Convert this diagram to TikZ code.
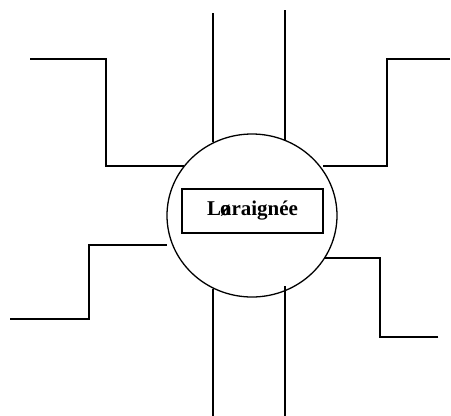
\documentclass[tikz,border=0pt]{standalone}
\usepackage{fontspec}
\setmainfont{Liberation Serif}
\usetikzlibrary{shapes.geometric}

\begin{document}
\begin{tikzpicture}[x=1pt, y=-1pt,
    web/.style={draw, ellipse, line width=1.3pt, minimum width=170pt, minimum height=163pt, inner sep=0pt},
    namebox/.style={draw, line width=1.3pt, minimum width=141pt, minimum height=44pt, inner sep=0pt, font=\fontsize{21}{25}\selectfont\bfseries},
    leg/.style={line width=2.2pt},
    rail/.style={line width=2pt}
]
\useasboundingbox (0,0) rectangle (451,416);

\node[web] (spider) at (252,215.5) {};
\node[namebox] (name) at (252.5,211) {L\makebox[0pt][l]{\kern-1pt ø}araignée};

% free ends
\coordinate (tl) at (30,59);   \coordinate (tlc) at (106.3,166.3);
\coordinate (tr) at (450,59);  \coordinate (trc) at (386.7,166.3);
\coordinate (trin) at (323.3,166.3);
\coordinate (bl) at (10,319.3); \coordinate (blc) at (89,245);
\coordinate (blin) at (166.7,245);
\coordinate (br) at (438.3,337.3); \coordinate (brc) at (380,258.3);
\coordinate (ut1) at (212.5,13); \coordinate (ut2) at (285,10);
\coordinate (dn1) at (212.5,416); \coordinate (dn2) at (285,416);
\coordinate (dn2in) at (285,286);

% legs
\draw[leg] (tl) -| (tlc) -- (tlc -| spider.144);
\draw[leg] (tr) -| (trc) -- (trin);
\draw[leg] (bl) -| (blc) -- (blin);
\draw[leg] (br) -| (brc) -- (brc -| spider.-30);

% rails
\draw[rail] (ut1) -- (ut1 |- spider.118);
\draw[rail] (ut2) -- (ut2 |- spider.66);
\draw[rail] (dn1) -- (dn1 |- spider.-118);
\draw[rail] (dn2) -- (dn2in);
\end{tikzpicture}
\end{document}
